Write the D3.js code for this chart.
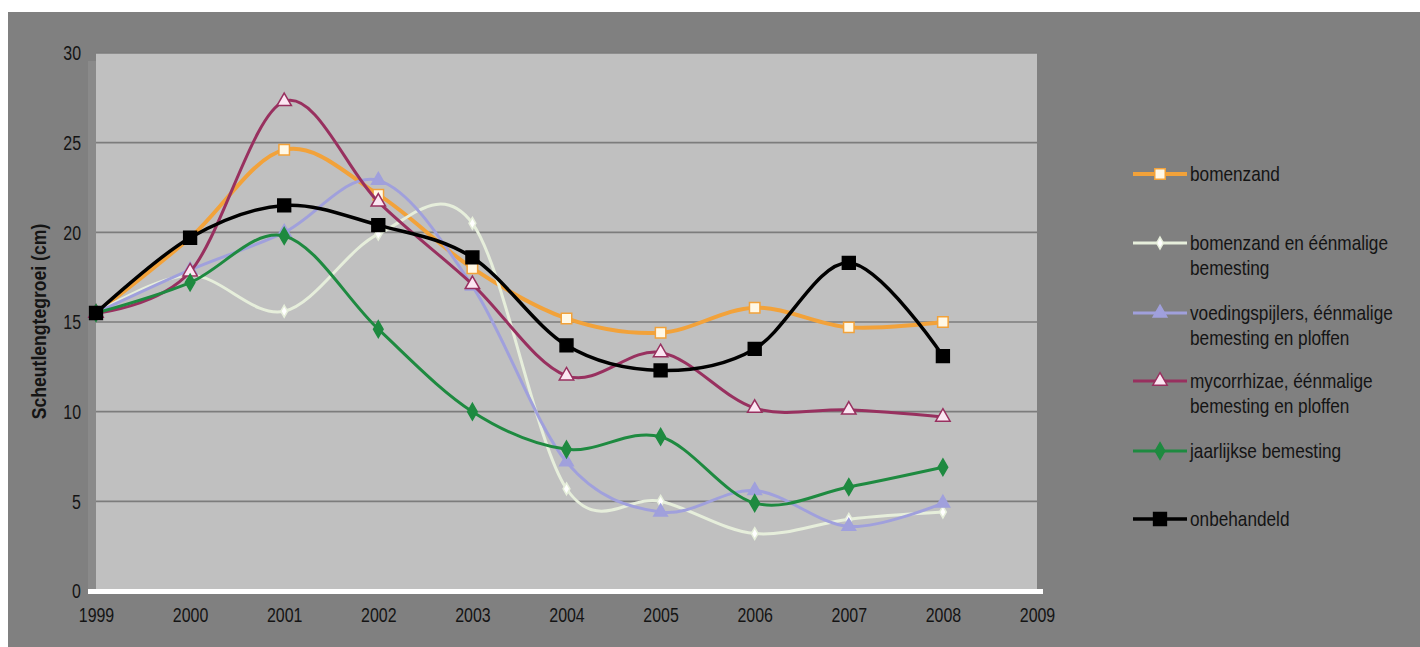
<!DOCTYPE html>
<html>
<head>
<meta charset="utf-8">
<script src="https://cdn.jsdelivr.net/npm/d3@7"></script>
<style>
  body { margin: 0; background: #fff; }
  svg { display: block; }
</style>
</head>
<body>
<script>
// Data
const years = [1999, 2000, 2001, 2002, 2003, 2004, 2005, 2006, 2007, 2008]
const yTicks = [0, 5, 10, 15, 20, 25, 30]
const xTicks = [1999, 2000, 2001, 2002, 2003, 2004, 2005, 2006, 2007, 2008, 2009]

const bomenzand = [15.5, 19.7, 24.6, 22.1, 18.0, 15.2, 14.4, 15.8, 14.7, 15.0]
const bomenzandBemesting = [15.5, 17.6, 15.6, 19.9, 20.5, 5.7, 5.0, 3.2, 4.0, 4.4]
const voedingspijlers = [15.5, 17.9, 20.0, 22.9, 17.0, 7.2, 4.4, 5.6, 3.6, 4.9]
const mycorrhizae = [15.5, 17.8, 27.3, 21.7, 17.1, 12.0, 13.3, 10.2, 10.1, 9.7]
const jaarlijks = [15.5, 17.2, 19.8, 14.6, 10.0, 7.9, 8.6, 4.9, 5.8, 6.9]
const onbehandeld = [15.5, 19.7, 21.5, 20.4, 18.6, 13.7, 12.3, 13.5, 18.3, 13.1]

const seriesNames = [
  ['bomenzand'],
  ['bomenzand en éénmalige', 'bemesting'],
  ['voedingspijlers, éénmalige', 'bemesting en ploffen'],
  ['mycorrhizae, éénmalige', 'bemesting en ploffen'],
  ['jaarlijkse bemesting'],
  ['onbehandeld'],
]
const seriesValues = [bomenzand, bomenzandBemesting, voedingspijlers, mycorrhizae, jaarlijks, onbehandeld]

// Styles per series
const styles = [
  { color: '#f2a23a', width: 4, marker: d3.symbolSquare, size: 110, fill: '#fff8e6', stroke: '#f2a23a' },
  { color: '#e6eedb', width: 3, marker: d3.symbolDiamond, size: 40, fill: '#ffffff', stroke: '#e6eedb' },
  { color: '#a0a0dc', width: 3, marker: d3.symbolTriangle, size: 80, fill: '#a0a0dc', stroke: '#a0a0dc' },
  { color: '#98305f', width: 3, marker: d3.symbolTriangle, size: 90, fill: '#fbe6f2', stroke: '#98305f' },
  { color: '#1e8a40', width: 3, marker: d3.symbolDiamond, size: 80, fill: '#1e8a40', stroke: '#1e8a40' },
  { color: '#000000', width: 3.5, marker: d3.symbolSquare, size: 165, fill: '#000000', stroke: '#000000' },
]

const W = 1420
const H = 647
const plot = { left: 96, right: 1037, top: 53, bottom: 591 }
const font = '"Liberation Sans", Arial, sans-serif'
// no narrow font installed, so squeeze text horizontally
const squeeze = 0.76

const svg = d3.select('body').append('svg').attr('width', W).attr('height', H)

// Outer gray chart area
svg.append('rect').attr('x', 8).attr('y', 12).attr('width', W - 8).attr('height', H - 12).attr('fill', '#808080')

const x = d3.scaleLinear().domain([1999, 2009]).range([plot.left, plot.right])
const y = d3.scaleLinear().domain([0, 30]).range([plot.bottom, plot.top])

// Plot area
svg.append('rect')
  .attr('x', plot.left)
  .attr('y', plot.top)
  .attr('width', plot.right - plot.left)
  .attr('height', plot.bottom - plot.top)
  .attr('fill', '#c0c0c0')

// Side wall strip
svg.append('rect')
  .attr('x', plot.left - 8)
  .attr('y', plot.top + 8)
  .attr('width', 8)
  .attr('height', plot.bottom - plot.top - 6)
  .attr('fill', '#8a8a8a')

// Gridlines
svg.append('g')
  .selectAll('line')
  .data(yTicks.filter((d) => d > 0))
  .enter()
  .append('line')
  .attr('x1', plot.left)
  .attr('x2', plot.right)
  .attr('y1', (d) => y(d))
  .attr('y2', (d) => y(d))
  .attr('stroke', '#7c7c7c')
  .attr('stroke-width', 1.6)

// Floor (white)
svg.append('rect')
  .attr('x', plot.left - 8)
  .attr('y', plot.bottom - 2)
  .attr('width', plot.right - plot.left + 14)
  .attr('height', 5)
  .attr('fill', '#ffffff')

// Y axis
const yAxis = svg.append('g')
  .attr('transform', `translate(${plot.left - 15},0)`)
  .call(d3.axisLeft(y).tickValues(yTicks).tickSize(0).tickPadding(0))
yAxis.select('.domain').remove()
yAxis.selectAll('text')
  .attr('font-family', font)
  .attr('font-size', 21)
  .attr('fill', '#141414')
  .attr('transform', `scale(${squeeze},1)`)

// X axis
const xAxis = svg.append('g')
  .attr('transform', `translate(0,${plot.bottom + 14})`)
  .call(d3.axisBottom(x).tickValues(xTicks).tickFormat(d3.format('d')).tickSize(0).tickPadding(2))
xAxis.select('.domain').remove()
xAxis.selectAll('text')
  .attr('font-family', font)
  .attr('font-size', 21)
  .attr('fill', '#141414')
  .attr('transform', `scale(${squeeze},1)`)

// Y axis title
svg.append('text')
  .attr('transform', `translate(46,${(223 + 420) / 2}) rotate(-90) scale(0.88,1)`)
  .attr('text-anchor', 'middle')
  .attr('font-family', font)
  .attr('font-weight', 'bold')
  .attr('font-size', 20)
  .attr('fill', '#141414')
  .text('Scheutlengtegroei (cm)')

// Lines
const line = d3.line()
  .x((d, i) => x(years[i]))
  .y((d) => y(d))
  .curve(d3.curveCatmullRom.alpha(0))

const seriesGroups = svg.append('g')
  .selectAll('g')
  .data(seriesValues)
  .enter()
  .append('g')

seriesGroups.append('path')
  .attr('d', (d) => line(d))
  .attr('fill', 'none')
  .attr('stroke', (d, i) => styles[i].color)
  .attr('stroke-width', (d, i) => styles[i].width)

seriesGroups.each(function (values, si) {
  const s = styles[si]
  d3.select(this)
    .selectAll('path.marker')
    .data(values)
    .enter()
    .append('path')
    .attr('class', 'marker')
    .attr('d', d3.symbol().type(s.marker).size(s.size))
    .attr('transform', (d, i) => `translate(${x(years[i])},${y(d)})`)
    .attr('fill', s.fill)
    .attr('stroke', s.stroke)
    .attr('stroke-width', 1.5)
})

// Legend
const legendY = [174, 243, 313, 381, 451, 519]
const legend = svg.append('g')
  .selectAll('g')
  .data(seriesNames)
  .enter()
  .append('g')
  .attr('transform', (d, i) => `translate(1133,${legendY[i]})`)

legend.append('line')
  .attr('x1', 0)
  .attr('x2', 54)
  .attr('stroke', (d, i) => styles[i].color)
  .attr('stroke-width', (d, i) => styles[i].width)

legend.append('path')
  .attr('d', (d, i) => d3.symbol().type(styles[i].marker).size(styles[i].size)())
  .attr('transform', 'translate(27,0)')
  .attr('fill', (d, i) => styles[i].fill)
  .attr('stroke', (d, i) => styles[i].stroke)
  .attr('stroke-width', 1.5)

legend.append('text')
  .attr('transform', 'translate(57,0) scale(0.82,1)')
  .attr('font-family', font)
  .attr('font-size', 21)
  .attr('fill', '#141414')
  .selectAll('tspan')
  .data((d) => d)
  .enter()
  .append('tspan')
  .attr('x', 0)
  .attr('y', (d, i) => 7 + i * 25)
  .text((d) => d)
</script>
</body>
</html>
